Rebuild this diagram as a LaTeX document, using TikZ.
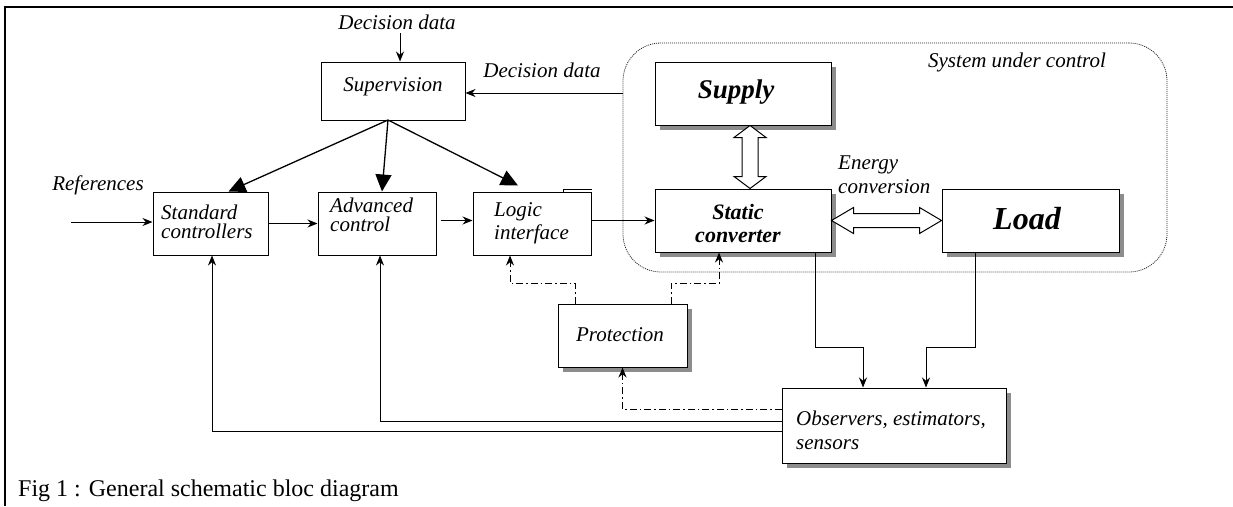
\documentclass[tikz,border=0pt]{standalone}
\usepackage{fontspec}
\setmainfont{Liberation Serif}
\usetikzlibrary{arrows.meta,calc,shadows}
\begin{document}
\begin{tikzpicture}[x=1pt,y=-1pt,
  box/.style={draw, line width=1pt, fill=white, inner sep=0pt},
  sbox/.style={box, drop shadow={shadow xshift=5pt, shadow yshift=-5pt, fill=black!45, opacity=1}},
  lbl/.style={font=\fontsize{21}{22}\selectfont\itshape, inner sep=0pt},
  bilbl/.style={font=\fontsize{22}{23}\selectfont\bfseries\itshape, inner sep=0pt},
  arr/.style={-{Stealth[length=10pt,width=8pt]}, line width=0.9pt},
  bigarr/.style={-{Triangle[length=17pt,width=16pt]}, line width=1.3pt},
  dd/.style={line width=1pt, dash pattern=on 7pt off 3pt on 1.5pt off 3pt, -{Stealth[length=10pt,width=8pt]}},
  hollow/.style={draw, line width=1pt, fill=white, line join=miter}]
\useasboundingbox (0,0) rectangle (1233,506);

% frame
\draw[line width=2pt] (5,506) -- (5,7) -- (1233,7);

% system under control
\node[draw=black!85, line width=0.8pt, dash pattern=on 1pt off 1pt, rounded corners=38pt,
      minimum width=544pt, minimum height=229pt, inner sep=0pt] (sys) at (895,157.5) {};
\node[lbl] (systxt) at (1017,62) {System under control};

% boxes
\node[box, minimum width=144pt, minimum height=58pt] (sup) at (393,91) {};
\node[lbl] (suptxt) at (393,87) {Supervision};
\node[box, minimum width=115pt, minimum height=63pt] (std) at (210.5,223.5) {};
\node[box, minimum width=118pt, minimum height=63pt] (adv) at (377,223.5) {};
\node[box, minimum width=118pt, minimum height=63pt] (logic) at (532,223.5) {};
\draw[line width=1pt] ([xshift=-28pt]logic.north east) -- ([xshift=-28pt,yshift=2pt]logic.north east) -- ([yshift=2pt]logic.north east);
\node[lbl, align=left, anchor=west, font=\fontsize{21}{19}\selectfont\itshape] (stdtxt) at (161,222) {Standard\\controllers};
\node[lbl, align=left, anchor=west, font=\fontsize{21}{19.5}\selectfont\itshape] (advtxt) at (330,215) {Advanced\\control};
\node[lbl, align=left, anchor=west, font=\fontsize{21}{23}\selectfont\itshape] (logtxt) at (494,223) {Logic\\interface};

\node[sbox, minimum width=176pt, minimum height=63pt] (supply) at (743,93.5) {};
\node[font=\fontsize{27}{28}\selectfont\bfseries\itshape, inner sep=0pt] (supplytxt) at (736,92) {Supply};
\node[sbox, minimum width=176pt, minimum height=63pt] (static) at (743,220.5) {};
\node[bilbl, align=center] (stattxt) at (738,223) {Static\\converter};
\node[sbox, minimum width=177pt, minimum height=63pt] (load) at (1030.5,220.5) {};
\node[font=\fontsize{32}{33}\selectfont\bfseries\itshape, inner sep=0pt] (loadtxt) at (1027,219) {Load};

\node[sbox, minimum width=129pt, minimum height=63pt] (prot) at (622.5,335.5) {};
\node[lbl] (prottxt) at (620,335) {Protection};
\node[sbox, minimum width=224pt, minimum height=75pt] (obs) at (894,425.5) {};
\node[lbl, align=left, anchor=west, font=\fontsize{21}{24}\selectfont\itshape] (obstxt) at (796,430) {Observers, estimators,\\sensors};

% labels
\node[lbl] (dd1) at (397,22) {Decision data};
\node[lbl] (dd2) at (542,70) {Decision data};
\node[lbl] (refs) at (98,185) {References};
\node[lbl, align=left, anchor=west, font=\fontsize{21}{24}\selectfont\itshape] (energy) at (838,175) {Energy\\conversion};
\node[anchor=west, inner sep=0pt, font=\fontsize{24}{26}\selectfont] (caption) at (18,491) {Fig 1 : General schematic bloc diagram};

% decision data arrows
\coordinate (dtop) at (400,33);
\draw[arr] (dtop) -- (dtop |- sup.north);
\draw[arr] (sys.west |- 0,93) -- (sup.east |- 0,93);

% supervision to controllers
\coordinate (sb) at (388,120);
\draw[bigarr] (sb) -- ([xshift=18pt]std.north);
\draw[bigarr] (sb) -- ([xshift=5pt]adv.north);
\draw[bigarr] (sb) -- ([xshift=-14pt,yshift=6pt]logic.north);

% main chain
\coordinate (in) at (71,222);
\draw[arr] (in) -- (in -| std.west);
\draw[arr] (std.east) -- (adv.west);
\draw[arr] ([xshift=4pt,yshift=3pt]adv.east) -- ([yshift=3pt]logic.west);
\draw[arr] (logic.east |- static.west) -- (static.west);

% hollow double arrows
\coordinate (vt) at ([xshift=7pt]supply.south);
\coordinate (vb) at ([xshift=7pt]static.north);
\draw[hollow] (vt) -- ($(vt)+(16,12)$) -- ($(vt)+(8,12)$) -- ($(vb)+(8,-12)$) -- ($(vb)+(16,-12)$) -- (vb)
  -- ($(vb)+(-16,-12)$) -- ($(vb)+(-8,-12)$) -- ($(vt)+(-8,12)$) -- ($(vt)+(-16,12)$) -- cycle;
\coordinate (hl) at (static.east);
\coordinate (hr) at (load.west);
\draw[hollow] (hl) -- ($(hl)+(22,-13)$) -- ($(hl)+(22,-7)$) -- ($(hr)+(-22,-7)$) -- ($(hr)+(-22,-13)$) -- (hr)
  -- ($(hr)+(-22,13)$) -- ($(hr)+(-22,7)$) -- ($(hl)+(22,7)$) -- ($(hl)+(22,13)$) -- cycle;

% measurements to observers
\coordinate (s1) at ([xshift=72pt]static.south);
\coordinate (m1) at (863,347);
\draw[arr] (s1) |- (m1) -- (m1 |- obs.north);
\coordinate (l1) at ([xshift=-55.5pt]load.south);
\coordinate (m2) at (926,347);
\draw[arr] (l1) |- (m2) -- (m2 |- obs.north);

% protection
\coordinate (p1) at (510,283);
\draw[dd] ([xshift=-47.5pt]prot.north) |- (p1) -- (p1 |- logic.south);
\coordinate (p2) at (719,283);
\draw[dd] ([xshift=48.5pt]prot.north) |- (p2) -- (p2 |- static.south);
\draw[dd] ([yshift=16.5pt]obs.west) -| (prot.south);

% feedback
\draw[arr] ([yshift=4.5pt]obs.west) -| ([xshift=3pt]adv.south);
\draw[arr] ([yshift=-5.5pt]obs.west) -| ([xshift=1.5pt]std.south);
\end{tikzpicture}
\end{document}
